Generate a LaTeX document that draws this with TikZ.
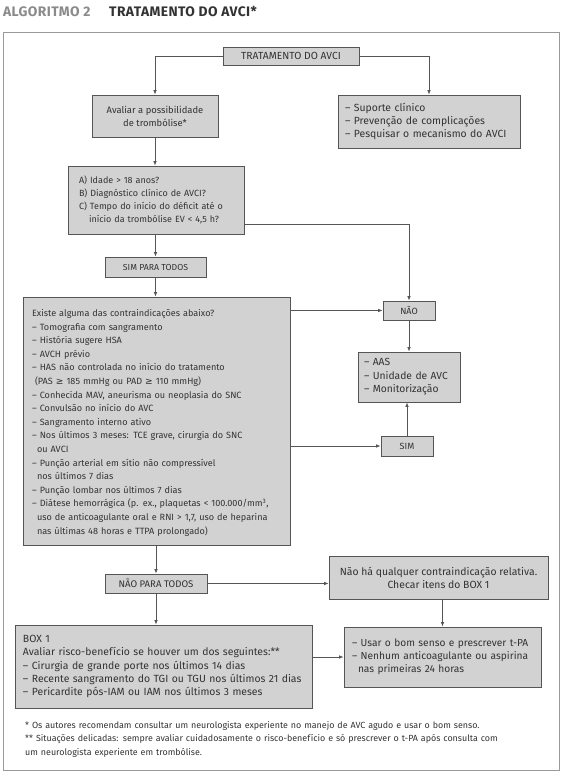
\documentclass[tikz,border=0pt]{standalone}
\usepackage{fontspec}
\setmainfont{Fira Sans}
\newfontfamily\symfnt{DejaVu Sans}
\usetikzlibrary{arrows.meta,calc}
\definecolor{boxfill}{HTML}{D2D2D2}
\definecolor{boxline}{HTML}{555555}
\definecolor{txt}{HTML}{333333}
\definecolor{linecol}{HTML}{555555}
\definecolor{framecol}{HTML}{9A9A9A}
\definecolor{titlegray}{HTML}{8A8A8A}
\newcommand{\geqs}{{\symfnt ≥}}
\tikzset{
  box/.style={draw=boxline, fill=boxfill, line width=0.8pt, inner sep=0pt, text=txt},
  conn/.style={draw=linecol, line width=0.8pt, -{Latex[length=4.5pt,width=3.6pt]}},
  fs/.style 2 args={font=\fontsize{#1}{#2}\selectfont},
  titlefont/.style={font=\bfseries\fontsize{13.8}{15}\selectfont\addfontfeature{LetterSpace=3}}
}
\begin{document}
\begin{tikzpicture}[x=1pt,y=-1pt]
\useasboundingbox (0,0) rectangle (567,777);
% title
\node[anchor=base west, inner sep=0pt, text=titlegray, titlefont] (t1) at (3,16.5) {ALGORITMO 2};
\node[anchor=base west, inner sep=0pt, text=txt, titlefont] (t2) at (109,16.5) {TRATAMENTO DO AVCI*};
% frame
\draw[framecol, line width=1pt] (3,32) rectangle (559,770);

\node[box, minimum width=136pt, minimum height=18pt, fs={10.3}{12}] (top) at (291,56) {TRATAMENTO DO AVCI};
\node[box, minimum width=126pt, minimum height=42pt, align=center, fs={9.4}{13}] (aval) at (155,116) {Avaliar a possibilidade\\de trombólise*};
\node[box, minimum width=182pt, minimum height=53pt, text width=168pt, align=left, fs={10.4}{13}] (right) at (429,121.5) {– Suporte clínico\\– Prevenção de complicações\\– Pesquisar o mecanismo do AVCI};
\node[box, minimum width=176pt, minimum height=68pt, text width=154pt, align=left, fs={9}{13}] (abox) at (156,200) {A) Idade > 18 anos?\\B) Diagnóstico clínico de AVCI?\\C) Tempo do início do déficit até o\\\hspace*{10pt}início da trombólise EV < 4,5 h?};
\node[box, minimum width=101pt, minimum height=20pt, fs={8.7}{10}] (simpt) at (155.5,267) {SIM PARA TODOS};
\node[box, minimum width=267pt, minimum height=248pt, text width=249pt, text height=19.5pt, text depth=228.5pt, align=left, fs={9.1}{13.6}] (big) at (156.5,421) {Existe alguma das contraindicações abaixo?\\
– Tomografia com sangramento\\
– História sugere HSA\\
– AVCH prévio\\
– HAS não controlada no início do tratamento\\
\hspace*{3pt}(PAS \geqs{} 185 mmHg ou PAD \geqs{} 110 mmHg)\\
– Conhecida MAV, aneurisma ou neoplasia do SNC\\
– Convulsão no início do AVC\\
– Sangramento interno ativo\\
– Nos últimos 3 meses: TCE grave, cirurgia do SNC\\
\hspace*{5pt}ou AVCI\\
– Punção arterial em sítio não compressível\\
\hspace*{5pt}nos últimos 7 dias\\
– Punção lombar nos últimos 7 dias\\
– Diátese hemorrágica (p. ex., plaquetas < 100.000/mm\textsuperscript{3},\\
\hspace*{5pt}uso de anticoagulante oral e RNI > 1,7, uso de heparina\\
\hspace*{5pt}nas últimas 48 horas e TTPA prolongado)};
\node[box, minimum width=52pt, minimum height=19pt, fs={9}{10}] (nao) at (409,310.5) {NÃO};
\node[box, minimum width=102pt, minimum height=50pt, text width=90pt, align=left, fs={10.3}{13.5}] (aas) at (409,377) {– AAS\\– Unidade de AVC\\– Monitorização};
\node[box, minimum width=52pt, minimum height=20pt, fs={9}{10}] (sim) at (407,446) {SIM};
\node[box, minimum width=102pt, minimum height=19pt, fs={9.6}{10}] (npt) at (156,583.5) {NÃO PARA TODOS};
\node[box, minimum width=219pt, minimum height=43pt, align=center, fs={10.4}{13}] (naoha) at (438.5,577.5) {Não há qualquer contraindicação relativa.\\Checar itens do BOX 1};
\node[box, minimum width=197pt, minimum height=60pt, text width=181pt, align=left, fs={10.2}{13}] (usar) at (442.5,657) {– Usar o bom senso e prescrever t-PA\\– Nenhum anticoagulante ou aspirina\\\hspace*{6pt}nas primeiras 24 horas};
\node[box, minimum width=297pt, minimum height=83pt, text width=281pt, align=left, fs={10.4}{13.2}] (box1) at (163.5,666.5) {BOX 1\\Avaliar risco-benefício se houver um dos seguintes:**\\– Cirurgia de grande porte nos últimos 14 dias\\– Recente sangramento do TGI ou TGU nos últimos 21 dias\\– Pericardite pós-IAM ou IAM nos últimos 3 meses};
% footnotes
\node[anchor=north west, inner sep=0pt, text width=530pt, align=left, text=txt, fs={8.9}{13.5}] (foot) at (25,721) {* Os autores recomendam consultar um neurologista experiente no manejo de AVC agudo e usar o bom senso.\\\relax** Situações delicadas: sempre avaliar cuidadosamente o risco-benefício e só prescrever o t-PA após consulta com\\um neurologista experiente em trombólise.};

% connectors
\coordinate (c1) at (aval.north |- top.west);
\draw[conn] (top.west) -- (c1) -- (aval.north);
\coordinate (c2) at (right.north |- top.east);
\draw[conn] (top.east) -- (c2) -- (right.north);
\draw[conn] (aval.south) -- (aval.south |- abox.north);
\draw[conn] (abox.south -| simpt.north) -- (simpt.north);
\draw[conn] (simpt.south) -- (simpt.south |- big.north);
\coordinate (c3) at (abox.east |- 0,224);
\coordinate (c4) at (nao.north |- c3);
\draw[conn] (c3) -- (c4) -- (nao.north);
\draw[conn] (big.east |- nao.west) -- (nao.west);
\draw[conn] (nao.south -| aas.north) -- (aas.north -| nao.south);
\draw[conn] (big.east |- sim.west) -- (sim.west);
\draw[conn] (sim.north) -- (sim.north |- aas.south);
\draw[conn] (big.south -| npt.north) -- (npt.north);
\draw[conn] (npt.east) -- (npt.east -| naoha.west);
\draw[conn] (npt.south) -- (npt.south |- box1.north);
\draw[conn] (naoha.south -| usar.north) -- (usar.north);
\draw[conn] (box1.east |- usar.west) -- (usar.west);
\end{tikzpicture}
\end{document}
